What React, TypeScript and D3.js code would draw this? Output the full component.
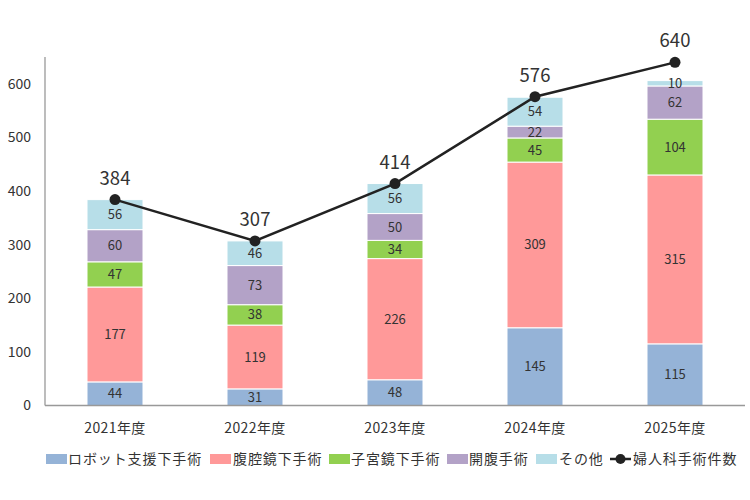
import React from "react";
import * as d3 from "d3";

const categories = ["2021年度", "2022年度", "2023年度", "2024年度", "2025年度"];
const seriesNames = ["ロボット支援下手術", "腹腔鏡下手術", "子宮鏡下手術", "開腹手術", "その他"];
const robot = [44, 31, 48, 145, 115];
const laparo = [177, 119, 226, 309, 315];
const hystero = [47, 38, 34, 45, 104];
const open = [60, 73, 50, 22, 62];
const other = [56, 46, 56, 54, 10];
const totalName = "婦人科手術件数";
const totals = [384, 307, 414, 576, 640];
const yTicks = [0, 100, 200, 300, 400, 500, 600];
const colors = ["#95B3D7", "#FF9999", "#92D050", "#B3A2C7", "#B7DEE8"];

const W = 750;
const H = 500;
const FONT = "'Noto Sans CJK JP', 'Noto Sans', sans-serif";

export default function App() {
  const left = 45;
  const right = 745;
  const top = 57;
  const bottom = 405.5;
  const x = d3.scaleBand<string>().domain(categories).range([left, right]).paddingInner(0.6).paddingOuter(0.3);
  const y = d3.scaleLinear().domain([0, 650]).range([bottom, top]);
  const seriesValues = [robot, laparo, hystero, open, other];
  const rows = categories.map((c, i) => {
    const r: any = { cat: c };
    seriesNames.forEach((s, k) => (r[s] = seriesValues[k][i]));
    return r;
  });
  const stacked = d3.stack<any>().keys(seriesNames)(rows);
  const cx = (c: string) => (x(c) as number) + x.bandwidth() / 2;
  const line = d3
    .line<number>()
    .x((_, i) => cx(categories[i]))
    .y((d) => y(d));

  const legendItems = [
    { label: seriesNames[0], x: 46, tx: 68, kind: "rect", color: colors[0] },
    { label: seriesNames[1], x: 210, tx: 233, kind: "rect", color: colors[1] },
    { label: seriesNames[2], x: 329, tx: 351, kind: "rect", color: colors[2] },
    { label: seriesNames[3], x: 447, tx: 469, kind: "rect", color: colors[3] },
    { label: seriesNames[4], x: 536, tx: 559, kind: "rect", color: colors[4] },
    { label: totalName, x: 610, tx: 633, kind: "line", color: "#222" },
  ];
  const ly = 459;

  return (
    <svg width={W} height={H} style={{ position: "absolute", left: 0, top: 0, background: "#fff" }} fontFamily={FONT}>
      {stacked.map((layer, k) => (
        <g key={k}>
          {layer.map((d, i) => (
            <rect
              key={i}
              x={x(categories[i])}
              y={y(d[1])}
              width={x.bandwidth()}
              height={y(d[0]) - y(d[1])}
              fill={colors[k]}
              stroke="#fff"
              strokeWidth={1}
            />
          ))}
        </g>
      ))}
      <line x1={left} x2={left} y1={top} y2={bottom} stroke="#999" strokeWidth={1.3} />
      <line x1={left} x2={right} y1={bottom} y2={bottom} stroke="#999" strokeWidth={1.3} />
      {yTicks.map((t) => (
        <text key={t} x={31} y={y(t)} dy="0.35em" textAnchor="end" fontSize={14} fill="#333">
          {t}
        </text>
      ))}
      {categories.map((c) => (
        <text key={c} x={cx(c)} y={428} dy="0.35em" textAnchor="middle" fontSize={14} fill="#333" letterSpacing={0.4}>
          {c}
        </text>
      ))}
      {stacked.map((layer, k) => (
        <g key={"l" + k}>
          {layer.map((d, i) => (
            <text
              key={i}
              x={cx(categories[i])}
              y={y((d[0] + d[1]) / 2)}
              dy="0.35em"
              textAnchor="middle"
              fontSize={13}
              fill="#333"
            >
              {seriesValues[k][i]}
            </text>
          ))}
        </g>
      ))}
      <path d={line(totals) || ""} fill="none" stroke="#222" strokeWidth={2.5} />
      {totals.map((v, i) => (
        <g key={i}>
          <circle cx={cx(categories[i])} cy={y(v)} r={5.5} fill="#222" />
          <text x={cx(categories[i])} y={y(v) - 15} textAnchor="middle" fontSize={18.5} fill="#333">
            {v}
          </text>
        </g>
      ))}
      {legendItems.map((it, i) => (
        <g key={i}>
          {it.kind === "rect" ? (
            <rect x={it.x} y={ly - 5} width={21} height={10} fill={it.color} />
          ) : (
            <g>
              <line x1={it.x} x2={it.x + 21} y1={ly} y2={ly} stroke="#222" strokeWidth={2.5} />
              <circle cx={it.x + 10.5} cy={ly} r={5} fill="#222" />
            </g>
          )}
          <text x={it.tx} y={ly} dy="0.35em" fontSize={14} fill="#333" letterSpacing={0.9}>
            {it.label}
          </text>
        </g>
      ))}
    </svg>
  );
}
